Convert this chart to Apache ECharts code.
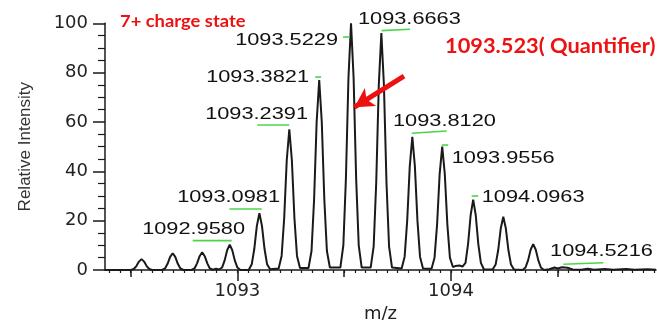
<!DOCTYPE html>
<html>
<head>
<meta charset="utf-8">
<script src="https://cdn.jsdelivr.net/npm/echarts/dist/echarts.min.js"></script>
<style>
html,body{margin:0;padding:0;background:#fff;}
#chart{width:657px;height:320px;}
</style>
</head>
<body>
<div id="chart"></div>
<script>
// ---- data ----
// profile spectrum: [m/z, relative intensity]
const profile = [
  [1092.380, 0], [1092.501, 0],
  [1092.515, 0.4], [1092.527, 1.6], [1092.539, 3.4], [1092.551, 4.4], [1092.563, 3.4], [1092.575, 1.6], [1092.587, 0.4], [1092.601, 0],
  [1092.647, 0], [1092.661, 0.6], [1092.673, 2.5], [1092.685, 5.3], [1092.697, 6.8], [1092.709, 5.3], [1092.721, 2.5], [1092.733, 0.6], [1092.747, 0],
  [1092.785, 0], [1092.799, 0.6], [1092.811, 2.7], [1092.823, 5.6], [1092.835, 7.2], [1092.847, 5.6], [1092.859, 2.7], [1092.871, 0.6], [1092.885, 0.1],
  [1092.900, 0.5],
  [1092.914, 0.2], [1092.928, 1.0], [1092.940, 3.8], [1092.952, 8.0], [1092.964, 10.3], [1092.976, 8.0], [1092.988, 3.8], [1093.000, 1.0], [1093.014, 0],
  [1093.053, 0], [1093.067, 2.3], [1093.079, 8.5], [1093.091, 17.9], [1093.103, 23], [1093.115, 17.9], [1093.127, 8.5], [1093.139, 2.3], [1093.153, 0.3],
  [1093.193, 0.6], [1093.207, 5.7], [1093.219, 21], [1093.231, 44.5], [1093.243, 57], [1093.255, 44.5], [1093.267, 21], [1093.279, 5.7], [1093.293, 0.8],
  [1093.333, 0.8], [1093.347, 7.7], [1093.359, 28.5], [1093.371, 60], [1093.383, 77], [1093.395, 60], [1093.407, 28.5], [1093.419, 7.7], [1093.433, 1],
  [1093.482, 1], [1093.496, 10], [1093.508, 37], [1093.520, 78], [1093.532, 100], [1093.544, 78], [1093.556, 37], [1093.568, 10], [1093.582, 1],
  [1093.624, 1], [1093.638, 9.6], [1093.650, 35.5], [1093.662, 75], [1093.674, 96], [1093.686, 75], [1093.698, 35.5], [1093.710, 9.6], [1093.724, 1],
  [1093.769, 0.6], [1093.783, 5.4], [1093.795, 20], [1093.807, 42], [1093.819, 54], [1093.831, 42], [1093.843, 20], [1093.855, 5.4], [1093.869, 0.6],
  [1093.909, 0.5], [1093.923, 5], [1093.935, 18.5], [1093.947, 39], [1093.959, 50], [1093.971, 39], [1093.983, 18.5], [1093.995, 5], [1094.009, 1.2],
  [1094.020, 1.6], [1094.040, 1.8], [1094.054, 1.4],
  [1094.068, 2.9], [1094.080, 10.5], [1094.092, 22.2], [1094.104, 28.5], [1094.116, 22.2], [1094.128, 10.5], [1094.140, 2.9], [1094.154, 0.3],
  [1094.195, 0.2], [1094.209, 2.2], [1094.221, 8], [1094.233, 16.8], [1094.245, 21.6], [1094.257, 16.8], [1094.269, 8], [1094.281, 2.2], [1094.295, 0.2],
  [1094.335, 0], [1094.349, 1.0], [1094.361, 3.9], [1094.373, 8.2], [1094.385, 10.5], [1094.397, 8.2], [1094.409, 3.9], [1094.421, 1.0], [1094.435, 0],
  [1094.460, 0.3], [1094.485, 1.0], [1094.500, 0.6], [1094.520, 1.1], [1094.545, 0.9], [1094.570, 0.2],
  [1094.610, 0.1], [1094.640, 0.5], [1094.670, 0.1], [1094.720, 0.4], [1094.760, 0.1], [1094.820, 0.4], [1094.860, 0.1], [1094.920, 0.3], [1094.960, 0.1]
];

// peak annotations (text, and the apex they belong to)
const labelTexts  = ['1092.9580', '1093.0981', '1093.2391', '1093.3821', '1093.5229', '1093.6663', '1093.8120', '1093.9556', '1094.0963', '1094.5216'];
const labelMz     = [1092.964, 1093.103, 1093.243, 1093.383, 1093.532, 1093.674, 1093.819, 1093.959, 1094.104, 1094.520];
const labelHeight = [10.3, 23, 57, 77, 100, 96, 54, 50, 28.5, 1.1];

// axis ticks
const xMin = 1092.38, xMax = 1094.96;
const xLabelTicks = [1093, 1094];
const xHalfTicks = [1092.5, 1093.5, 1094.5];
const xMinorTicks = [];
for (let v = 109240; v <= 109495; v += 5) xMinorTicks.push(v / 100);
const yTicks = [0, 20, 40, 60, 80, 100];

// annotation texts
const chargeText = '7+ charge state';
const quantText = '1093.523( Quantifier)';
const arrowFrom = [1093.78, 78.6];
const arrowTo = [1093.548, 66.0];

// ---- layout / style (pixel offsets relative to each apex) ----
const labelLayout = [
  {t: [15.3, -14.6], a: 'right', g: [-37, -4, 2, -4]},
  {t: [20.6, -15.3], a: 'right', g: [-30, -4.3, 2.3, -4.3]},
  {t: [18.7, -14.4], a: 'right', g: [-32, -4.4, 0, -4.4]},
  {t: [-10.2, -2],   a: 'right', g: [-4, -3, 2, -3]},
  {t: [-13, 17.7],   a: 'right', g: [-8, 13.7, -1, 13.7]},
  {t: [-23.4, -13.2], a: 'left', g: [0.3, -2.5, 28.6, -3.9]},
  {t: [-19.3, -15.1], a: 'left', g: [-0.6, -3.5, 34.4, -5.8]},
  {t: [9.5, 11.7],   a: 'left', g: [-0.5, -1.6, 6, -1.6]},
  {t: [8.5, -2.2],   a: 'left', g: [-1.5, -3.7, 5.1, -3.7]},
  {t: [-12, -15.8],  a: 'left', g: [1.3, -3, 41.3, -4.6]}
];

const AX = '#1a1a1a';
const RED = '#ee1111';
const GREEN = '#4cd44c';

const chart = echarts.init(document.getElementById('chart'), null, {renderer: 'canvas'});

function xAxisBase(extra) {
  return Object.assign({
    type: 'value', min: xMin, max: xMax, position: 'bottom', gridIndex: 0,
    splitLine: {show: false}, axisLabel: {show: false},
    axisLine: {show: false}
  }, extra);
}

const option = {
  animation: false,
  backgroundColor: '#fff',
  grid: {left: 105, right: 1, top: 23.3, bottom: 50, containLabel: false, outerBoundsMode: 'none'},
  xAxis: [
    xAxisBase({
      axisLine: {show: true, onZero: false, lineStyle: {color: AX, width: 1.5}},
      axisTick: {show: true, customValues: xMinorTicks, length: 3, lineStyle: {color: AX, width: 1.2}}
    }),
    xAxisBase({
      axisTick: {show: true, customValues: xHalfTicks, length: 7, lineStyle: {color: AX, width: 1.5}}
    }),
    xAxisBase({
      axisTick: {show: true, customValues: xLabelTicks, length: 11, lineStyle: {color: AX, width: 1.5}},
      axisLabel: {show: true, customValues: xLabelTicks, margin: 12, fontSize: 18, fontFamily: 'DejaVu Sans', color: '#222',
        formatter: v => String(v)},
      name: 'm/z', nameLocation: 'middle', nameGap: 32,
      nameTextStyle: {fontSize: 18, fontFamily: 'DejaVu Sans', color: '#222'}
    })
  ],
  yAxis: {
    type: 'value', min: 0, max: 100, interval: 20,
    axisLine: {show: true, lineStyle: {color: AX, width: 1.5}},
    axisTick: {show: true, length: 12, lineStyle: {color: AX, width: 1.5}},
    minorTick: {show: true, splitNumber: 4, length: 7, lineStyle: {color: AX, width: 1.2}},
    splitLine: {show: false}, minorSplitLine: {show: false},
    axisLabel: {margin: 17, fontSize: 18, fontFamily: 'DejaVu Sans', color: '#222',
      formatter: v => yTicks.includes(v) ? String(v) : ''},
    name: 'Relative Intensity', nameLocation: 'middle', nameGap: 71,
    nameTextStyle: {fontSize: 17, fontFamily: 'Liberation Sans', color: '#333'}
  },
  series: [
    {
      type: 'line', xAxisIndex: 0, data: profile, showSymbol: false, symbol: 'none',
      lineStyle: {color: AX, width: 2}, smooth: false, silent: true, z: 3,
      markLine: {
        silent: true, symbol: ['none', 'arrow'], symbolSize: [16, 19],
        label: {show: false},
        lineStyle: {color: RED, width: 5, type: 'solid'},
        data: [[{coord: arrowFrom}, {coord: arrowTo}]]
      }
    },
    {
      type: 'custom', xAxisIndex: 0, coordinateSystem: 'cartesian2d', silent: true, clip: false, z: 5,
      data: labelMz.map((m, i) => [m, labelHeight[i]]),
      renderItem: function (params, api) {
        const i = params.dataIndex;
        const p = api.coord([api.value(0), api.value(1)]);
        const L = labelLayout[i];
        return {
          type: 'group',
          children: [
            {type: 'line', shape: {x1: p[0] + L.g[0], y1: p[1] + L.g[1], x2: p[0] + L.g[2], y2: p[1] + L.g[3]},
              style: {stroke: GREEN, lineWidth: 1.6}},
            {type: 'text', x: p[0] + L.t[0], y: p[1] + L.t[1], scaleX: 1.36,
              style: {text: labelTexts[i], font: '16px "Liberation Sans", Arial, sans-serif', fill: '#111',
                align: L.a, verticalAlign: 'middle'}}
          ]
        };
      }
    }
  ],
  graphic: [
    {type: 'text', x: 120, y: 22, scaleX: 1.08,
      style: {text: chargeText, font: 'bold 17px Lato, "Open Sans", sans-serif', fill: RED, align: 'left', verticalAlign: 'middle'}},
    {type: 'text', x: 445, y: 47, scaleX: 1.09,
      style: {text: quantText, font: 'bold 20px Lato, "Open Sans", sans-serif', fill: RED, align: 'left', verticalAlign: 'middle'}}
  ]
};
chart.setOption(option);
</script>
</body>
</html>
